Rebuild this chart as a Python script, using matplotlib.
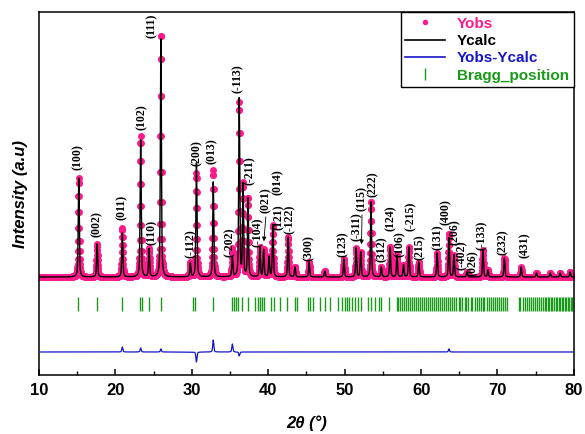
import matplotlib
matplotlib.use("Agg")
import matplotlib.pyplot as plt
import numpy as np
from matplotlib.lines import Line2D

# 峰位 (2θ) 与峰高（计算值 / 观测值，任意单位）
peak_pos = [15.2, 17.6, 20.9, 23.3, 24.4, 25.95, 29.8, 30.6, 32.8, 35.3,
            36.2, 36.7, 37.35, 38.9, 39.4, 40.1, 40.6, 42.6, 43.5, 45.35,
            47.4, 49.9, 51.5, 52.1, 53.45, 54.8, 55.95, 56.85, 57.7, 58.4,
            59.7, 62.1, 63.65, 64.3, 66.0, 68.1, 68.75, 70.9, 73.1, 75.1,
            76.9, 78.2, 79.5]
calc_height = [9900, 3300, 4400, 13700, 2800, 24100, 1400, 11400, 9500, 2000,
               17800, 9200, 7900, 2900, 2700, 2000, 5200, 4000, 1000, 1500,
               600, 1800, 2900, 2500, 7600, 1000, 3000, 2200, 1200, 3000,
               1500, 2400, 4000, 2200, 500, 2700, 700, 1900, 1000, 400,
               400, 400, 500]
obs_height = [9900, 3300, 4900, 14100, 2800, 24400, 1400, 10400, 10700, 2800,
              17400, 9200, 7900, 2900, 2700, 2000, 5200, 4000, 1000, 1500,
              600, 1800, 2900, 2500, 7600, 1000, 3000, 2200, 1200, 3000,
              1500, 2400, 4300, 2200, 500, 2700, 700, 1900, 1000, 400,
              400, 400, 500]

# 布拉格衍射位置
bragg_pos = [15.15, 17.56, 20.9, 23.2, 23.5, 24.4, 25.9, 30.1, 30.4, 32.8,
             35.3, 35.5, 35.75, 36.1, 36.6, 37.4, 38.3, 38.6, 38.9, 39.2,
             39.5, 40.4, 40.8, 41.6, 42.5, 43.5, 43.8, 45.2, 45.5, 45.9,
             46.8, 47.4, 48.1, 49.1, 49.6, 50.0, 50.3, 50.6, 51.0, 51.4,
             51.7, 52.1, 53.1, 53.5, 54.0, 54.5, 54.7, 55.8,
             56.8, 57.0, 57.3, 57.5, 57.8, 58.0, 58.3, 58.6, 58.8, 59.1,
             59.4, 59.6, 59.9, 60.1, 60.4, 60.6, 60.9, 61.2, 61.4, 61.7,
             61.9, 62.2, 62.5, 62.7, 63.0, 63.3, 63.5, 63.8, 64.0, 64.3,
             64.6, 64.9, 65.1, 65.4, 65.7, 65.9, 66.2, 66.5, 66.7, 67.0,
             67.3, 67.6, 67.8, 68.1, 68.3, 68.6, 68.9, 69.1, 69.4, 69.7,
             69.9, 70.2, 70.5, 70.7, 71.0, 71.2,
             72.8, 73.0, 73.3, 73.6, 73.8, 74.1, 74.4, 74.6, 74.9, 75.2,
             75.4, 75.7, 76.0, 76.2, 76.4, 76.6, 76.8, 77.0, 77.2, 77.4,
             77.6, 77.8, 78.0, 78.2, 78.4, 78.6, 78.8, 79.0, 79.2, 79.4,
             79.6, 79.8, 79.95]

# 晶面指数标注
hkl_text = ["(100)", "(002)", "(011)", "(102)", "(110)", "(111)", "(-112)",
            "(200)", "(013)", "(-202)", "(-113)", "(-211)", "(-104)", "(021)",
            "(014)", "(121)", "(-122)", "(300)", "(123)", "(-311)", "(115)",
            "(222)", "(312)", "(124)", "(106)", "(-215)", "(215)", "(131)",
            "(400)", "(206)", "(-402)", "(-133)", "(026)", "(232)", "(431)"]
hkl_x = [15.10, 17.59, 20.86, 23.48, 24.79, 24.79, 29.9, 30.68, 32.64, 35.0,
         36.05, 37.6, 38.66, 39.71, 41.28, 41.41, 42.85, 45.34, 49.79, 51.62,
         52.28, 53.72, 54.9, 56.07, 57.25, 58.7, 59.87, 62.23, 63.27, 64.45,
         65.37, 67.98, 66.8, 70.73, 73.61]
hkl_y = [10700, 4000, 5700, 14700, 3200, 23900, 1900, 11100, 11300, 2000,
         18400, 9200, 3000, 6400, 8200, 4700, 4300, 1600, 2000, 3600,
         6600, 8000, 1500, 4600, 2000, 4600, 1700, 2700, 5200, 3200,
         700, 2700, 100, 2200, 1900]

pink = "#FF1A8C"
green = "#1A9A1A"
blue = "#1515C8"

plt.rcParams["font.family"] = ["Liberation Sans", "DejaVu Sans"]


def pattern(x, heights, fwhm=0.16, eta=0.5):
    y = np.zeros_like(x)
    for p, h in zip(peak_pos, heights):
        d = (x - p) / fwhm
        y += h * (eta / (1 + 4 * d ** 2) + (1 - eta) * np.exp(-4 * np.log(2) * d ** 2))
    return y


two_theta = np.arange(10, 80.001, 0.02)
y_calc = pattern(two_theta, calc_height)
y_obs = pattern(two_theta, obs_height)
diff_offset = -7500

fig = plt.figure(figsize=(5.85, 4.34), dpi=100)
ax = fig.add_axes([0.0667, 0.136, 0.9143, 0.836])

ax.plot(two_theta, y_obs, "o", color=pink, ms=5, mew=0, zorder=2)
ax.plot(two_theta, y_calc, "-", color="black", lw=1.0, zorder=3)
ax.plot(two_theta, y_obs - y_calc + diff_offset, "-", color=blue, lw=0.9, zorder=3)
ax.vlines(bragg_pos, -3400, -2000, color=green, lw=1.0)

for t, x, y in zip(hkl_text, hkl_x, hkl_y):
    ax.text(x, y, t, rotation=90, ha="center", va="bottom", fontsize=8.5,
            fontweight="bold", family=["Liberation Serif"], clip_on=False)

arrow = dict(arrowstyle="-|>", color="black", lw=0.6, mutation_scale=6)
ax.annotate("", xy=(39.4, 3300), xytext=(39.71, 6300), arrowprops=arrow)
ax.annotate("", xy=(52.2, 3000), xytext=(52.28, 6500), arrowprops=arrow)

ax.set_xlim(10, 80)
ax.set_ylim(-9800, 26500)
ax.set_yticks([])
ax.set_xticks(range(10, 81, 10))
ax.set_xticks(range(15, 80, 10), minor=True)
ax.tick_params(axis="x", which="major", direction="in", length=4.5, width=1.1,
               labelsize=12, pad=6)
ax.tick_params(axis="x", which="minor", direction="in", length=3, width=1.0)
for lbl in ax.get_xticklabels():
    lbl.set_fontweight("bold")
for s in ax.spines.values():
    s.set_linewidth(1.1)

ax.set_xlabel("2θ (°)", fontsize=12, fontweight="bold", fontstyle="italic", labelpad=12)
ax.set_ylabel("Intensity (a.u)", fontsize=12, fontweight="bold", fontstyle="italic", labelpad=8)

handles = [
    Line2D([], [], marker="o", ls="none", color=pink, ms=4, mew=0),
    Line2D([], [], color="black", lw=1.2),
    Line2D([], [], color=blue, lw=1.2),
    Line2D([], [], marker="|", ls="none", color=green, ms=9, mew=1),
]
labels = ["Yobs", "Ycalc", "Yobs-Ycalc", "Bragg_position"]
leg = ax.legend(handles, labels, loc="upper right", borderaxespad=0, fancybox=False,
                edgecolor="black", framealpha=1, handlelength=2.6, labelspacing=0.22,
                prop={"weight": "bold", "size": 11}, borderpad=0.3)
leg.get_frame().set_linewidth(1.0)
for txt, c in zip(leg.get_texts(), [pink, "black", blue, green]):
    txt.set_color(c)

fig.savefig("out.png", dpi=100)
